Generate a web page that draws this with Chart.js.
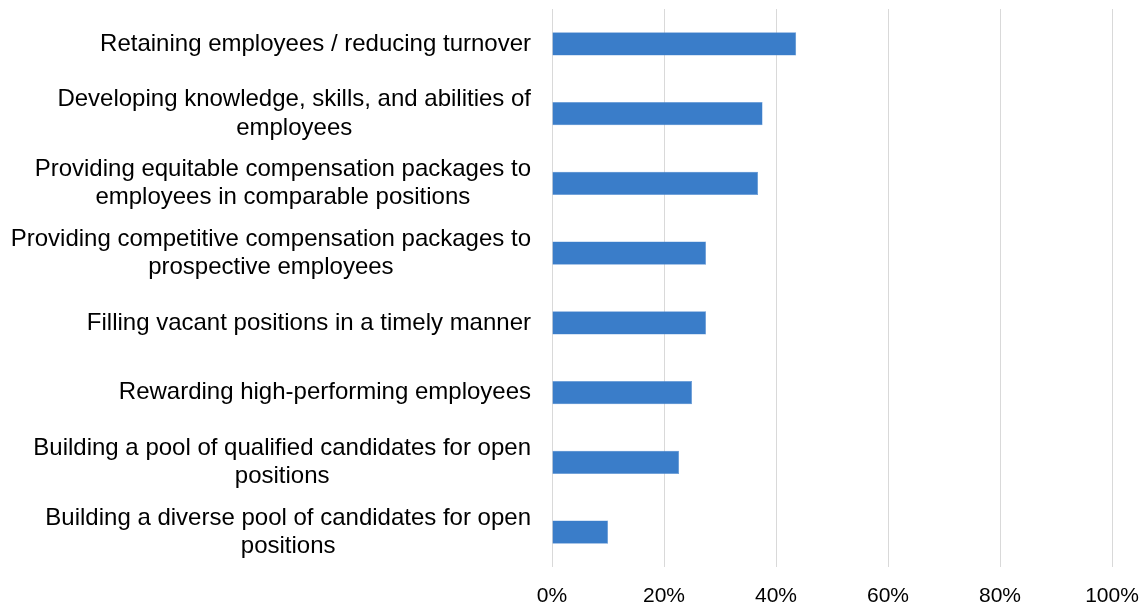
<!DOCTYPE html>
<html lang="en">
<head>
<meta charset="UTF-8">
<title>Prioridades de talento</title>
<script src="https://cdn.jsdelivr.net/npm/chart.js@4.4.1/dist/chart.umd.min.js"></script>
<style>
    html, body { margin: 0; padding: 0; background: #fff; }
    #contenedor { width: 1143px; height: 609px; }
</style>
</head>
<body>
<div id="contenedor"><canvas id="grafica"></canvas></div>
<script>
// Categorías (cada una como lista de líneas)
const categorias = [
    ["Retaining employees / reducing turnover"],
    ["Developing knowledge, skills, and abilities of", "employees"],
    ["Providing equitable compensation packages to", "employees in comparable positions"],
    ["Providing competitive compensation packages to", "prospective employees"],
    ["Filling vacant positions in a timely manner"],
    ["Rewarding high-performing employees"],
    ["Building a pool of qualified candidates for open", "positions"],
    ["Building a diverse pool of candidates for open", "positions"]
];

// Porcentaje de respuestas por categoría
const porcentajes = [43.6, 37.6, 36.8, 27.5, 27.5, 25.0, 22.7, 10.0];

// Marcas del eje X
const marcasEje = [0, 20, 40, 60, 80, 100];

const fuente = "'Liberation Sans', Arial, sans-serif";

// Etiquetas del eje Y: bloque alineado a la derecha con las líneas centradas
const etiquetasCentradas = {
    id: "etiquetasCentradas",
    afterDraw(chart) {
        const ctx = chart.ctx;
        const ejeY = chart.scales.y;
        const altoLinea = 28.5;
        const derecha = chart.chartArea.left - 21;
        ctx.save();
        ctx.font = `24px ${fuente}`;
        ctx.fillStyle = "#000";
        ctx.textAlign = "center";
        ctx.textBaseline = "middle";
        categorias.forEach((lineas, i) => {
            const ancho = Math.max(...lineas.map(l => ctx.measureText(l).width));
            const x = derecha - ancho / 2;
            const yInicio = ejeY.getPixelForValue(i) - (lineas.length - 1) * altoLinea / 2;
            lineas.forEach((linea, j) => ctx.fillText(linea, x, yInicio + j * altoLinea));
        });
        ctx.restore();
    }
};

const ctx = document.getElementById("grafica").getContext("2d");
new Chart(ctx, {
    type: "bar",
    data: {
        labels: categorias,
        datasets: [{
            data: porcentajes,
            backgroundColor: "#3A7DC9",
            borderColor: "#5B93D3",
            borderWidth: 0.5,
            barPercentage: 0.33,
            categoryPercentage: 1
        }]
    },
    options: {
        indexAxis: "y",
        responsive: true,
        maintainAspectRatio: false,
        animation: false,
        layout: {
            padding: { top: 9, right: 31, left: 0, bottom: 0 }
        },
        plugins: {
            legend: { display: false },
            tooltip: { enabled: false }
        },
        scales: {
            x: {
                min: marcasEje[0],
                max: marcasEje[marcasEje.length - 1],
                afterBuildTicks: escala => {
                    escala.ticks = marcasEje.map(v => ({ value: v }));
                },
                afterFit: escala => {
                    escala.height = 42;
                    escala.paddingLeft = 0;
                    escala.paddingRight = 0;
                },
                grid: {
                    color: "#D9D9D9",
                    lineWidth: 1,
                    drawTicks: false
                },
                border: { display: false },
                ticks: {
                    padding: 17,
                    color: "#000",
                    font: { family: fuente, size: 21 },
                    callback: v => v + "%"
                }
            },
            y: {
                afterFit: escala => { escala.width = 552; },
                grid: { display: false },
                border: { display: false },
                ticks: { display: false }
            }
        }
    },
    plugins: [etiquetasCentradas]
});
</script>
</body>
</html>
